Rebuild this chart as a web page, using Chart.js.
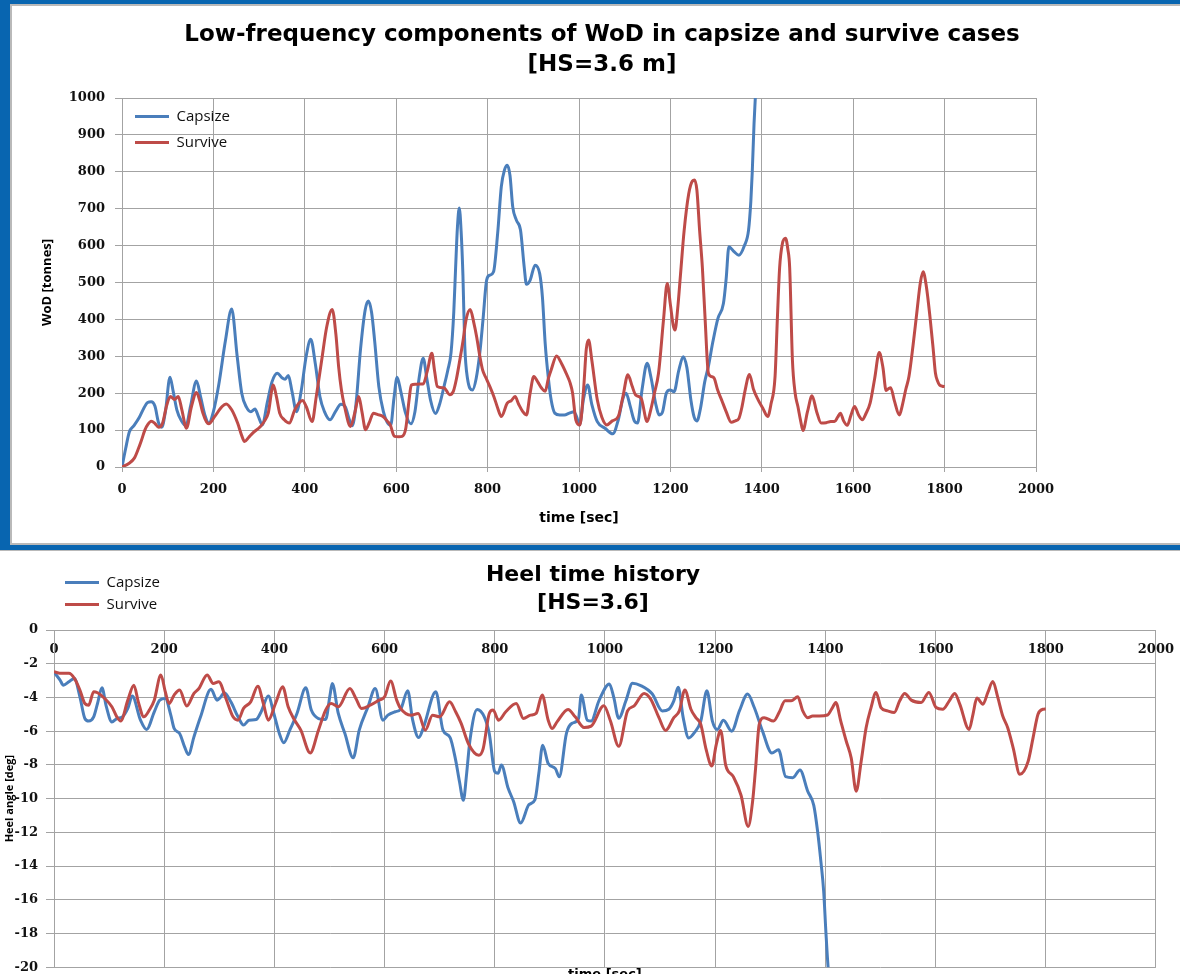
<!DOCTYPE html>
<html>
<head>
<meta charset="utf-8">
<title>WoD and heel time histories</title>
<script src="https://cdn.jsdelivr.net/npm/chart.js@4.4.0/dist/chart.umd.min.js"></script>
<style>
  html, body { margin: 0; padding: 0; background: #fff; overflow: hidden; width: 1180px; height: 974px; }
  #frame { position: absolute; left: 0; top: 0; width: 1220px; height: 550px; background: #0865b0; border-bottom: 1px solid #b9b9b9; }
  #panel { position: absolute; left: 10px; top: 4px; width: 1210px; height: 541px; box-sizing: border-box; background: #fff; border: 2px solid #b9b9b9; border-right: none; }
  #wod { position: absolute; left: 13px; top: 7px; }
  #heel { position: absolute; left: 0; top: 551px; }
</style>
</head>
<body>
<div id="frame"><div id="panel"></div></div>
<canvas id="wod" width="1178" height="536"></canvas>
<canvas id="heel" width="1186" height="432"></canvas>
<script>
const seriesNames = ['Capsize', 'Survive'];
const seriesColors = ['#4a7ebb', '#be4b48'];

const timeTicks = [0, 200, 400, 600, 800, 1000, 1200, 1400, 1600, 1800, 2000];
const wodTicks = [0, 100, 200, 300, 400, 500, 600, 700, 800, 900, 1000];
const heelTicks = [0, -2, -4, -6, -8, -10, -12, -14, -16, -18, -20];

// water on deck, low-frequency part [tonnes]
const wodCapsizeT = [0, 8, 16, 26, 38, 48, 56, 64, 72, 80, 87, 95, 105, 112, 120, 130, 140, 150, 163, 172, 182, 190, 200, 212, 226, 240, 252, 262, 272, 282, 291, 299, 307, 318, 328, 340, 350, 357, 364, 372, 382, 392, 403, 413, 423, 433, 443, 455, 467, 479, 489, 497, 504, 512, 522, 532, 539, 546, 553, 562, 572, 580, 588, 595, 602, 610, 620, 632, 641, 650, 659, 667, 675, 686, 695, 705, 713, 720, 726, 730, 734, 738, 742, 746, 750, 756, 767, 775, 783, 790, 798, 805, 813, 822, 830, 837, 843, 849, 855, 863, 872, 880, 885, 893, 904, 914, 920, 926, 933, 939, 947, 958, 968, 979, 989, 995, 1001, 1010, 1019, 1028, 1040, 1057, 1074, 1086, 1096, 1103, 1112, 1121, 1128, 1138, 1149, 1158, 1168, 1176, 1183, 1191, 1199, 1208, 1218, 1228, 1236, 1245, 1252, 1258, 1266, 1275, 1283, 1293, 1304, 1316, 1322, 1328, 1338, 1350, 1362, 1371, 1376, 1379, 1383, 1386, 1388];
const wodCapsizeV = [0, 50, 95, 112, 135, 160, 175, 177, 165, 120, 108, 150, 243, 205, 155, 125, 112, 165, 233, 190, 138, 119, 150, 225, 340, 428, 300, 200, 163, 150, 157, 135, 114, 175, 230, 254, 242, 238, 248, 205, 150, 205, 300, 346, 280, 191, 150, 128, 150, 170, 162, 130, 112, 170, 320, 425, 450, 420, 340, 218, 150, 122, 113, 185, 243, 205, 148, 117, 150, 240, 295, 240, 182, 145, 170, 220, 263, 310, 420, 540, 650, 702, 640, 520, 330, 240, 209, 240, 310, 400, 507, 520, 529, 633, 760, 805, 818, 790, 705, 669, 642, 543, 495, 506, 547, 524, 460, 335, 240, 182, 146, 141, 141, 146, 150, 135, 114, 185, 222, 170, 123, 105, 90, 128, 185, 200, 165, 125, 119, 210, 281, 240, 170, 141, 150, 200, 209, 204, 260, 299, 270, 180, 135, 125, 160, 230, 272, 340, 403, 443, 510, 597, 585, 574, 600, 642, 720, 796, 930, 1005, 1060];

const wodSurviveT = [0, 14, 27, 36, 43, 50, 57, 64, 72, 80, 88, 98, 106, 115, 123, 131, 141, 152, 163, 170, 177, 185, 190, 203, 219, 228, 240, 253, 262, 268, 277, 286, 303, 312, 320, 331, 338, 345, 355, 366, 378, 387, 395, 403, 416, 425, 437, 448, 460, 468, 474, 480, 487, 500, 510, 518, 525, 533, 541, 550, 560, 571, 580, 587, 596, 606, 613, 621, 628, 633, 642, 650, 659, 668, 678, 684, 690, 705, 717, 725, 732, 738, 746, 753, 762, 770, 776, 783, 789, 797, 805, 814, 822, 830, 843, 852, 860, 868, 877, 885, 893, 901, 910, 918, 926, 933, 939, 951, 962, 972, 980, 986, 993, 1002, 1010, 1016, 1021, 1028, 1040, 1050, 1061, 1073, 1086, 1096, 1107, 1116, 1124, 1136, 1149, 1157, 1165, 1174, 1185, 1193, 1200, 1206, 1210, 1216, 1222, 1230, 1240, 1248, 1253, 1258, 1264, 1270, 1276, 1283, 1290, 1296, 1303, 1312, 1322, 1333, 1342, 1350, 1357, 1363, 1373, 1382, 1392, 1402, 1413, 1420, 1429, 1434, 1439, 1445, 1452, 1457, 1461, 1467, 1473, 1479, 1485, 1490, 1500, 1510, 1520, 1530, 1541, 1551, 1559, 1566, 1572, 1579, 1587, 1595, 1603, 1612, 1620, 1628, 1637, 1647, 1657, 1665, 1672, 1677, 1682, 1690, 1701, 1708, 1715, 1722, 1731, 1739, 1747, 1753, 1760, 1768, 1775, 1780, 1785, 1789, 1795, 1800];
const wodSurviveV = [0, 9, 24, 50, 74, 100, 116, 124, 118, 108, 116, 168, 191, 183, 191, 155, 105, 164, 202, 180, 146, 122, 117, 137, 164, 171, 155, 119, 85, 69, 80, 92, 110, 125, 146, 222, 190, 146, 128, 119, 155, 173, 180, 164, 123, 190, 290, 380, 427, 360, 272, 210, 164, 110, 150, 191, 150, 101, 120, 146, 142, 137, 125, 114, 83, 82, 83, 105, 180, 222, 224, 225, 225, 260, 308, 260, 218, 214, 196, 205, 240, 281, 340, 400, 427, 390, 353, 300, 263, 240, 218, 190, 160, 137, 173, 180, 191, 170, 150, 141, 200, 245, 230, 214, 205, 240, 263, 301, 280, 254, 230, 200, 128, 114, 210, 320, 344, 290, 182, 135, 114, 125, 137, 190, 250, 220, 195, 186, 123, 155, 200, 254, 400, 497, 440, 385, 371, 430, 520, 640, 740, 775, 778, 750, 640, 540, 400, 255, 245, 240, 210, 182, 150, 121, 125, 132, 165, 205, 251, 210, 182, 160, 137, 170, 245, 400, 540, 605, 620, 590, 540, 290, 200, 164, 125, 99, 150, 193, 150, 119, 120, 123, 123, 135, 146, 125, 113, 140, 164, 140, 128, 145, 173, 240, 310, 270, 207, 212, 215, 180, 141, 170, 210, 245, 330, 416, 500, 529, 490, 407, 320, 254, 232, 222, 219, 218];

// heel angle [deg]
const heelCapsizeT = [0, 11, 17, 27, 37, 47, 56, 63, 72, 79, 87, 95, 105, 114, 124, 134, 142, 157, 168, 182, 192, 202, 212, 218, 228, 237, 244, 254, 266, 285, 296, 302, 309, 321, 334, 344, 354, 367, 376, 389, 399, 409, 417, 428, 441, 457, 467, 480, 493, 501, 505, 516, 528, 543, 554, 570, 583, 597, 606, 619, 629, 642, 651, 662, 671, 693, 706, 719, 729, 736, 743, 749, 755, 768, 781, 790, 800, 806, 812, 824, 834, 847, 862, 873, 880, 887, 897, 910, 917, 930, 940, 952, 957, 968, 975, 989, 1008, 1016, 1025, 1038, 1050, 1065, 1086, 1104, 1116, 1125, 1133, 1142, 1152, 1162, 1174, 1185, 1195, 1204, 1215, 1230, 1244, 1259, 1271, 1286, 1303, 1315, 1328, 1341, 1354, 1368, 1379, 1386, 1392, 1397, 1401, 1405, 1407];
const heelCapsizeV = [-2.5, -2.97, -3.27, -3.07, -2.87, -3.96, -5.25, -5.4, -5.15, -4.36, -3.43, -4.55, -5.45, -5.25, -5.15, -4.65, -3.92, -5.35, -5.9, -4.85, -4.16, -4.06, -5.05, -5.84, -6.14, -6.93, -7.39, -6.34, -5.15, -3.52, -4.16, -4.0, -3.72, -4.26, -5.15, -5.64, -5.35, -5.31, -4.85, -3.92, -4.95, -6.14, -6.69, -5.94, -4.95, -3.43, -4.75, -5.25, -5.31, -3.86, -3.17, -4.95, -6.14, -7.58, -5.94, -4.55, -3.47, -5.35, -5.05, -4.85, -4.71, -3.6, -5.35, -6.38, -5.74, -3.66, -5.94, -6.38, -7.72, -9.0, -10.1, -8.5, -6.53, -4.71, -5.15, -6.14, -8.4, -8.5, -8.0, -9.36, -10.16, -11.45, -10.36, -10.06, -8.5, -6.83, -7.92, -8.22, -8.71, -6.14, -5.54, -5.25, -3.86, -5.35, -5.4, -4.2, -3.2, -4.0, -5.24, -4.2, -3.16, -3.3, -3.8, -4.8, -4.7, -4.2, -3.4, -5.2, -6.4, -6.1, -5.4, -3.6, -5.4, -5.9, -5.36, -6.0, -4.8, -3.8, -4.6, -6.0, -7.3, -7.1, -8.7, -8.76, -8.3, -9.56, -10.4, -11.95, -13.75, -15.5, -17.9, -20.0, -20.6];

const heelSurviveT = [0, 14, 27, 37, 47, 56, 63, 72, 79, 92, 105, 114, 121, 134, 145, 153, 163, 173, 182, 194, 202, 209, 218, 228, 241, 254, 263, 278, 289, 299, 312, 325, 334, 344, 357, 370, 380, 389, 402, 415, 425, 435, 448, 465, 480, 493, 503, 516, 537, 548, 558, 574, 590, 600, 611, 622, 629, 648, 661, 674, 687, 700, 718, 729, 739, 752, 771, 779, 790, 797, 807, 820, 839, 852, 865, 875, 886, 897, 904, 913, 933, 946, 962, 975, 998, 1010, 1025, 1041, 1053, 1071, 1083, 1098, 1110, 1125, 1135, 1145, 1156, 1165, 1174, 1183, 1194, 1202, 1210, 1219, 1233, 1247, 1260, 1268, 1273, 1280, 1289, 1306, 1316, 1327, 1338, 1350, 1359, 1368, 1377, 1389, 1404, 1413, 1419, 1428, 1438, 1447, 1456, 1465, 1474, 1483, 1492, 1501, 1513, 1525, 1535, 1544, 1556, 1574, 1588, 1601, 1613, 1625, 1635, 1644, 1661, 1668, 1675, 1686, 1695, 1704, 1713, 1722, 1731, 1741, 1753, 1768, 1777, 1786, 1795, 1800];
const heelSurviveV = [-2.48, -2.57, -2.57, -2.87, -3.56, -4.36, -4.46, -3.66, -3.72, -4.06, -4.55, -5.15, -5.4, -4.16, -3.27, -4.26, -5.15, -4.75, -4.16, -2.67, -3.66, -4.36, -3.86, -3.56, -4.51, -3.76, -3.47, -2.67, -3.17, -3.07, -4.06, -5.15, -5.35, -4.65, -4.26, -3.33, -4.36, -5.35, -4.36, -3.37, -4.55, -5.25, -5.94, -7.29, -5.94, -4.75, -4.36, -4.55, -3.47, -4.06, -4.65, -4.46, -4.16, -3.96, -3.03, -4.16, -4.65, -5.05, -4.95, -5.94, -5.05, -5.15, -4.26, -4.85, -5.54, -6.73, -7.43, -7.03, -4.95, -4.75, -5.35, -4.85, -4.36, -5.25, -5.05, -4.95, -3.86, -5.35, -5.84, -5.45, -4.71, -5.15, -5.78, -5.7, -4.5, -5.4, -6.9, -4.8, -4.5, -3.76, -4.1, -5.2, -5.96, -5.2, -4.8, -3.56, -4.7, -5.2, -5.6, -7.0, -8.06, -6.8, -5.96, -8.0, -8.7, -9.8, -11.65, -10.16, -8.36, -5.6, -5.2, -5.4, -4.9, -4.2, -4.2, -3.96, -4.8, -5.2, -5.1, -5.1, -5.04, -4.6, -4.3, -5.4, -6.6, -7.6, -9.56, -7.8, -5.8, -4.6, -3.7, -4.6, -4.8, -4.9, -4.2, -3.76, -4.16, -4.3, -3.7, -4.6, -4.7, -4.2, -3.76, -4.4, -5.9, -5.0, -4.04, -4.4, -3.7, -3.06, -4.0, -5.1, -5.8, -7.0, -8.56, -7.8, -6.4, -5.0, -4.7, -4.68];

const pts = (t, v) => t.map((x, i) => ({ x, y: v[i] }));
const tickList = list => scale => { scale.ticks = list.map(value => ({ value })); };

const gridGray = '#a3a3a3';
const tickFont = { family: 'DejaVu Serif', size: 13, weight: 'bold' };

Chart.defaults.font.family = 'Open Sans';
Chart.defaults.color = '#111';

// a chartArea legend gets no useful top from the layout, so pin it to the plot corner (+ offset)
const legendOffset = {
  id: 'legendOffset',
  afterLayout(chart, args, opts) {
    const lg = chart.legend;
    const area = chart.chartArea;
    if (!lg) return;
    const w = lg.width, h = lg.height;
    lg.left = area.left + (opts.dx || 0);
    lg.right = lg.left + w;
    lg.top = area.top + (opts.dy || 0);
    lg.bottom = lg.top + h;
  }
};

function lineSets(capT, capV, surT, surV) {
  return [
    [capT, capV], [surT, surV]
  ].map(([t, v], i) => ({
    label: seriesNames[i],
    data: pts(t, v),
    borderColor: seriesColors[i],
    backgroundColor: seriesColors[i],
    borderWidth: 3,
    pointRadius: 0,
    cubicInterpolationMode: 'monotone',
    order: 1 - i
  }));
}

function legendOpts(pad) {
  return {
    position: 'chartArea',
    align: 'start',
    labels: {
      usePointStyle: true,
      pointStyle: 'line',
      pointStyleWidth: 34,
      padding: pad,
      color: '#111',
      font: { family: 'Open Sans', size: 15 },
      sort: (a, b) => a.datasetIndex - b.datasetIndex
    }
  };
}

// right hand spacer so the chart title can stay centred on the whole panel
const spacer = w => ({
  type: 'linear', position: 'right', display: true,
  grid: { display: false, drawTicks: false }, border: { display: false },
  ticks: { display: false },
  afterFit: s => { s.width = w; }
});

new Chart(document.getElementById('wod'), {
  type: 'line',
  data: { datasets: lineSets(wodCapsizeT, wodCapsizeV, wodSurviveT, wodSurviveV) },
  plugins: [legendOffset],
  options: {
    responsive: false,
    animation: false,
    events: [],
    layout: { padding: 0 },
    plugins: {
      title: {
        display: true,
        text: ['Low-frequency components of WoD in capsize and survive cases', '[HS=3.6 m]'],
        color: '#000',
        font: { family: 'DejaVu Sans', size: 23, weight: 'bold', lineHeight: '30px' },
        padding: { top: 13, bottom: 18 }
      },
      legend: legendOpts(11),
      legendOffset: { dx: 2, dy: 0 },
      tooltip: { enabled: false }
    },
    scales: {
      x: {
        type: 'linear', min: 0, max: 2000,
        afterBuildTicks: tickList(timeTicks),
        afterFit: s => { s.height = 76; },
        grid: { color: gridGray, tickLength: 5 },
        border: { color: gridGray },
        ticks: { font: tickFont, color: '#111', padding: 10, maxRotation: 0, callback: v => String(v) },
        title: { display: true, text: 'time [sec]', color: '#000', font: { family: 'DejaVu Sans', size: 14, weight: 'bold' }, padding: { top: 0, bottom: 16 } }
      },
      y: {
        type: 'linear', min: 0, max: 1000,
        afterBuildTicks: tickList(wodTicks),
        afterFit: s => { s.width = 109; },
        grid: { color: gridGray, tickLength: 7 },
        border: { color: gridGray },
        ticks: { font: tickFont, color: '#111', padding: 10, callback: v => String(v) },
        title: { display: true, text: 'WoD [tonnes]', color: '#000', font: { family: 'Open Sans', size: 13, weight: 'bold' }, padding: { top: 26, bottom: 0 } }
      },
      yPad: spacer(155)
    }
  }
});

new Chart(document.getElementById('heel'), {
  type: 'line',
  data: { datasets: lineSets(heelCapsizeT, heelCapsizeV, heelSurviveT, heelSurviveV) },
  plugins: [legendOffset],
  options: {
    responsive: false,
    animation: false,
    events: [],
    layout: { padding: 0 },
    plugins: {
      title: {
        display: true,
        text: ['Heel time history', '[HS=3.6]'],
        color: '#000',
        font: { family: 'DejaVu Sans', size: 22, weight: 'bold', lineHeight: '28px' },
        padding: { top: 10, bottom: 13 }
      },
      legend: legendOpts(7),
      legendOffset: { dx: 4, dy: -62 },
      tooltip: { enabled: false }
    },
    scales: {
      x: {
        type: 'linear', min: 0, max: 2000,
        position: { y: 0 },
        afterBuildTicks: tickList(timeTicks),
        afterFit: s => { s.height = 20; },
        grid: { color: gridGray, drawTicks: false },
        border: { color: gridGray },
        ticks: { font: tickFont, color: '#111', padding: 12, maxRotation: 0, callback: v => String(v) }
      },
      xTitle: {
        type: 'linear', min: 0, max: 2000, position: 'bottom',
        afterFit: s => { s.height = 15; },
        grid: { display: false, drawTicks: false }, border: { display: false },
        ticks: { display: false },
        title: { display: true, text: 'time [sec]', color: '#000', font: { family: 'DejaVu Sans', size: 13, weight: 'bold' }, padding: 0 }
      },
      y: {
        type: 'linear', min: -20, max: 0,
        afterBuildTicks: tickList(heelTicks),
        afterFit: s => { s.width = 54; },
        grid: { color: gridGray, tickLength: 8 },
        border: { color: gridGray },
        ticks: { font: tickFont, color: '#111', padding: 8, callback: v => String(v) },
        title: { display: true, text: 'Heel angle [deg]', color: '#000', font: { family: 'Open Sans', size: 11, weight: 'bold' }, padding: { top: 3, bottom: 0 } }
      },
      yPad: spacer(29)
    }
  }
});
</script>
</body>
</html>
